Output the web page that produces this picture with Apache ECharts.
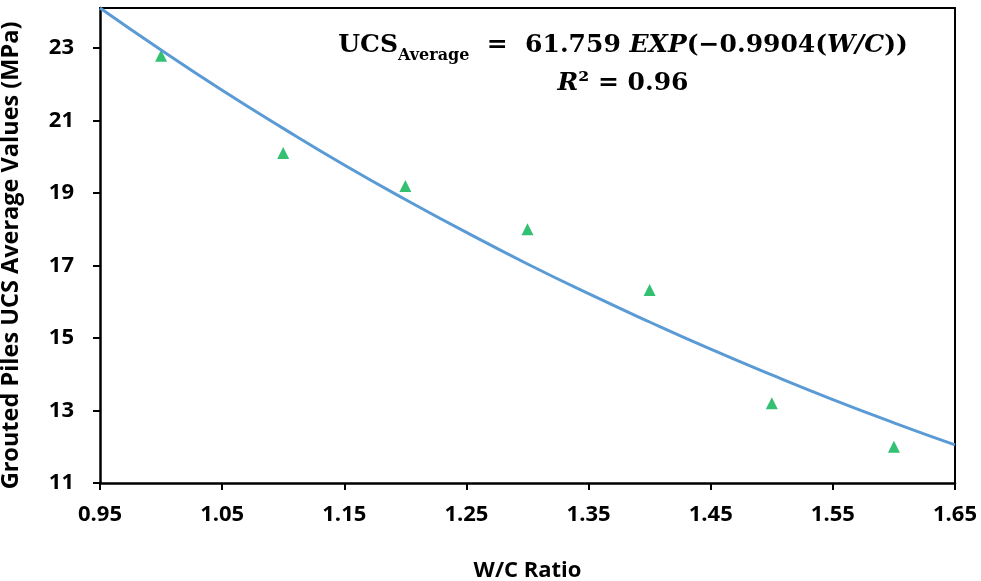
<!DOCTYPE html>
<html>
<head>
<meta charset="utf-8">
<script src="https://cdn.jsdelivr.net/npm/echarts@6/dist/echarts.min.js"></script>
<style>
  html, body { margin: 0; padding: 0; background: #fff; }
  #chart { width: 981px; height: 581px; }
</style>
</head>
<body>
<div id="chart"></div>
<script>
(function(){
    var mychart = echarts.init(document.getElementById('chart'));

    // measured points (W/C ratio, UCS average MPa)
    var wcRatio = [1.0, 1.1, 1.2, 1.3, 1.4, 1.5, 1.6];
    var ucsAvg = [22.78, 20.1, 19.19, 18.0, 16.32, 13.2, 12.0];

    // trend line
    var trendX = [0.95, 1.0, 1.05, 1.1, 1.15, 1.2, 1.25, 1.3, 1.35, 1.4, 1.45, 1.5, 1.55, 1.6, 1.65];
    var trendY = [24.1, 22.94, 21.83, 20.78, 19.77, 18.82, 17.91, 17.04, 16.22, 15.44, 14.69, 13.98, 13.3, 12.66, 12.05];

    // tick labels
    var xTicks = [0.95, 1.05, 1.15, 1.25, 1.35, 1.45, 1.55, 1.65];
    var yTicks = [11, 13, 15, 17, 19, 21, 23];

    var labelFont = 'Open Sans';
    var eqFont = 'DejaVu Serif';

    // plain axis used only to close the plot box (top / right)
    function borderAxis(pos, min, max) {
        return {
            type: 'value', position: pos, min: min, max: max,
            axisLine: { show: true, lineStyle: { color: '#000', width: 2 } },
            axisTick: { show: false }, axisLabel: { show: false }, splitLine: { show: false }
        };
    }

    var option = {
        backgroundColor: '#fff',
        animation: false,
        grid: {
            left: 100,
            right: 26,
            top: 8,
            bottom: 98,
            containLabel: false,
            outerBoundsMode: 'none'
        },
        xAxis: [{
            type: 'value',
            min: 0.95,
            max: 1.65,
            name: 'W/C Ratio',
            nameLocation: 'middle',
            nameGap: 77,
            nameTextStyle: { fontFamily: labelFont, fontWeight: 'bold', fontSize: 22, color: '#000' },
            axisLine: { show: true, onZero: false, lineStyle: { color: '#000', width: 2.5 } },
            axisTick: { show: true, inside: false, length: 7, lineStyle: { color: '#000', width: 2 }, customValues: xTicks },
            axisLabel: {
                customValues: xTicks,
                margin: 21,
                fontFamily: labelFont, fontWeight: 'bold', fontSize: 22, color: '#000',
                formatter: function (v) { return v.toFixed(2); }
            },
            splitLine: { show: false }
        }, borderAxis('top', 0.95, 1.65)],
        yAxis: [{
            type: 'value',
            min: 11,
            max: 24.1,
            name: 'Grouted Piles UCS Average Values (MPa)',
            nameLocation: 'middle',
            nameGap: 77,
            nameTextStyle: { fontFamily: labelFont, fontWeight: 'bold', fontSize: 23.5, color: '#000', padding: [0, 20, 0, 0] },
            axisLine: { show: true, onZero: false, lineStyle: { color: '#000', width: 2.5 } },
            axisTick: { show: true, inside: false, length: 7, lineStyle: { color: '#000', width: 2 }, customValues: yTicks },
            axisLabel: {
                customValues: yTicks,
                margin: 26,
                fontFamily: labelFont, fontWeight: 'bold', fontSize: 22, color: '#000'
            },
            splitLine: { show: false }
        }, borderAxis('right', 11, 24.1)],
        series: [
            {
                name: 'Trend',
                type: 'line',
                smooth: true,
                showSymbol: false,
                clip: true,
                lineStyle: { color: '#5B9BD5', width: 3 },
                data: trendX.map(function (x, i) { return [x, trendY[i]]; })
            },
            {
                name: 'UCS',
                type: 'scatter',
                symbol: 'triangle',
                symbolSize: 12,
                itemStyle: { color: '#00B050' },
                data: wcRatio.map(function (x, i) { return [x, ucsAvg[i]]; })
            }
        ],
        graphic: [
            {
                type: 'text',
                z: 10,
                x: 623,
                y: 26,
                style: {
                    text: '{b|UCS}{sub|Average}{b|  =  61.759 }{i|EXP}{b|(−0.9904(}{i|W/C}{b|))}\n{i|R}{b|² = 0.96}',
                    align: 'center',
                    verticalAlign: 'top',
                    rich: {
                        b: { fontFamily: eqFont, fontWeight: 'bold', fontSize: 25, lineHeight: 38, verticalAlign: 'middle', fill: '#000' },
                        i: { fontFamily: eqFont, fontWeight: 'bold', fontStyle: 'italic', fontSize: 25, lineHeight: 38, verticalAlign: 'middle', fill: '#000' },
                        sub: { fontFamily: eqFont, fontWeight: 'bold', fontSize: 16, lineHeight: 17, verticalAlign: 'bottom', fill: '#000' }
                    }
                }
            }
        ]
    };

    mychart.setOption(option);
})();
</script>
</body>
</html>
